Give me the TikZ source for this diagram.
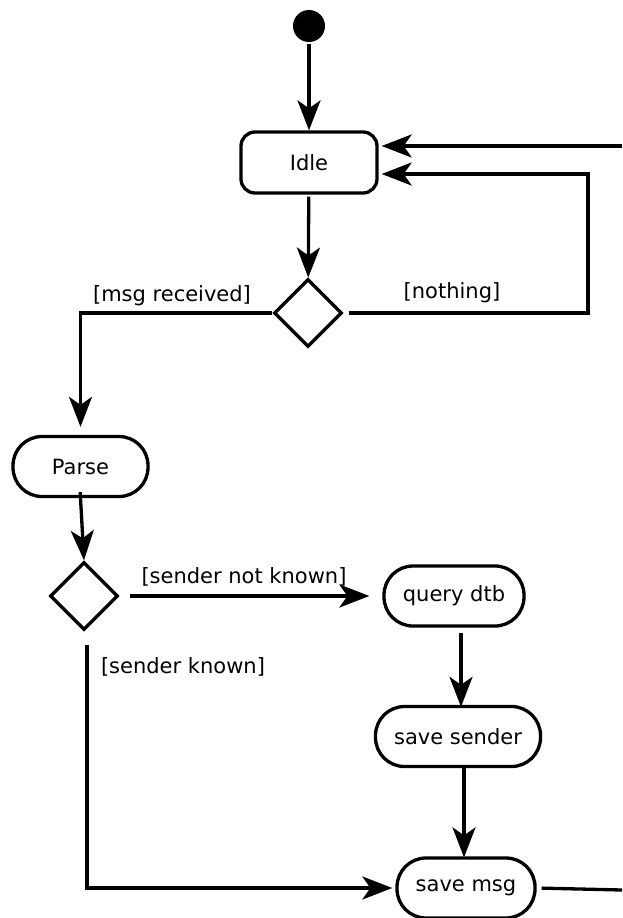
\documentclass[tikz,border=0pt]{standalone}
\usepackage{fontspec}
\setmainfont{DejaVu Sans}
\usetikzlibrary{shapes.geometric,arrows.meta}
\begin{document}
\begin{tikzpicture}[x=1pt,y=-1pt,
  font=\fontsize{21}{25}\selectfont,
  line width=3.3pt,
  activity/.style={draw,rectangle,rounded corners=29pt,minimum height=60pt,inner sep=0pt},
  choice/.style={draw,diamond,minimum width=68pt,minimum height=68pt,inner sep=0pt},
  flow/.style={-{Stealth[length=30pt,width=23pt,inset=8pt]}},
  guard/.style={inner sep=0pt}]
\useasboundingbox (0,0) rectangle (622,918);

% states
\node[circle,fill=black,minimum size=32pt,inner sep=0pt] (start) at (309,26) {};
\node[draw,rectangle,rounded corners=14pt,minimum width=136pt,minimum height=61pt] (idle) at (309,162.5) {Idle};
\node[choice] (d1) at (308,313) {};
\node[activity,minimum width=135pt] (parse) at (80.5,466.5) {Parse};
\node[choice] (d2) at (84,596) {};
\node[activity,minimum width=140pt] (query) at (454,596) {query dtb};
\node[activity,minimum width=165pt] (sender) at (458,736.5) {save sender};
\node[activity,minimum width=138pt] (savemsg) at (466,888) {save msg};

% free ends and vertical guides
\coordinate (inA) at (622,146);
\coordinate (loop) at (588,174);
\coordinate (out) at (622,890);
\coordinate (colA) at (461,0);
\coordinate (colB) at (464,0);
\coordinate (colC) at (87,0);

% guards
\node[guard] (gmsg) at (172,296) {[msg received]};
\node[guard] (gnothing) at (452,293) {[nothing]};
\node[guard] (gnotknown) at (244,577) {[sender not known]};
\node[guard] (gknown) at (183,667) {[sender known]};

% transitions
\draw[flow] (start) -- (idle);
\draw[flow,shorten >=3pt] (inA) -- (idle.east |- inA);
\draw[flow,shorten <=2pt] (idle) -- (d1);
\draw[flow,shorten <=5pt,shorten >=3pt] (d1.east) -| (loop) -- (idle.east |- loop);
\draw[flow,shorten >=8pt] (d1.west) -| (parse.north);
\draw[flow,shorten <=-6pt] (parse.south) -- (d2.north);
\draw[flow,shorten <=10pt,shorten >=13pt] (d2.east) -- (query.west);
\draw[flow,shorten <=5pt,shorten >=-2pt] (query.south -| colA) -- (sender.north -| colA);
\draw[flow,shorten >=-1pt] (sender.south -| colB) -- (savemsg.north -| colB);
\draw[flow,shorten <=13pt,shorten >=3pt] (d2.south -| colC) |- (savemsg.west);
\draw[shorten <=5pt] (savemsg.east) -- (out);
\end{tikzpicture}
\end{document}
